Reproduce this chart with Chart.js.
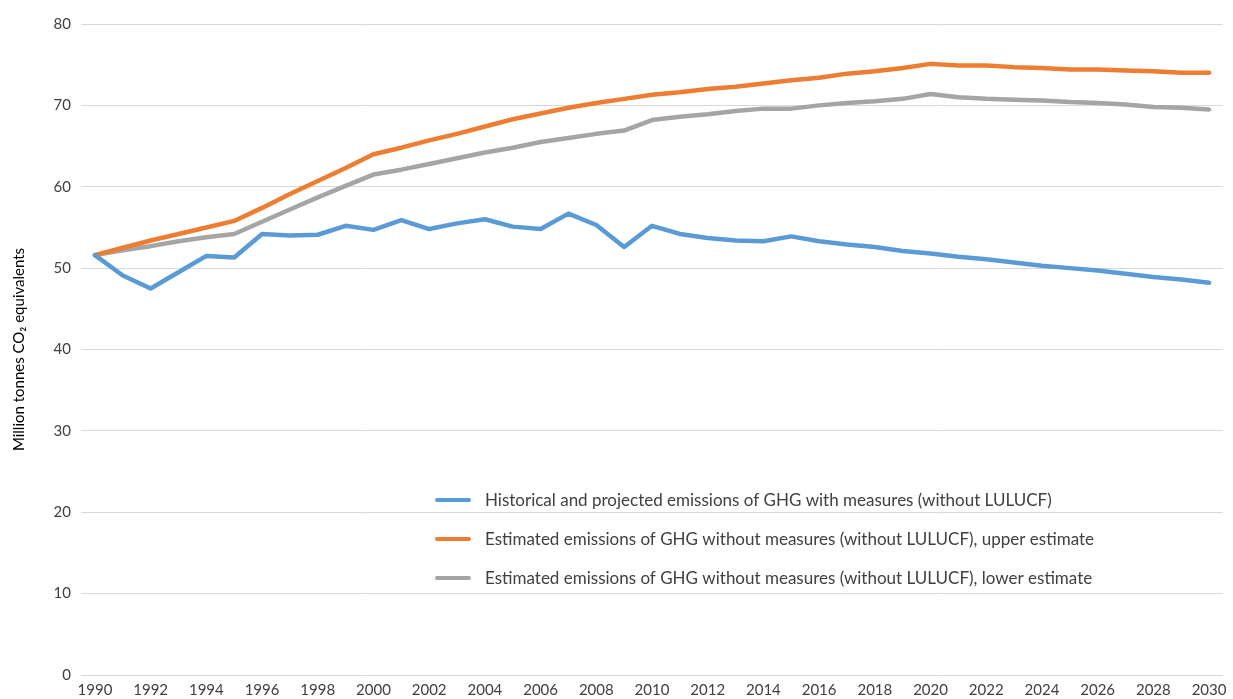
<!DOCTYPE html>
<html>
<head>
<meta charset="utf-8">
<script src="https://cdn.jsdelivr.net/npm/chart.js@4/dist/chart.umd.min.js"></script>
<style>
  html, body { margin: 0; padding: 0; background: #ffffff; }
  #wrap { width: 1233px; height: 699px; }
</style>
</head>
<body>
<div id="wrap"><canvas id="chart" width="1233" height="699"></canvas></div>
<script>
// Years on the horizontal axis
const years = [];
for (let y = 1990; y <= 2030; y++) years.push(String(y));

// Emissions, million tonnes CO2 equivalents
const withMeasures = [
  51.6, 49.1, 47.5, 49.5, 51.5, 51.3, 54.2, 54.0, 54.1, 55.2,
  54.7, 55.9, 54.8, 55.5, 56.0, 55.1, 54.8, 56.7, 55.3, 52.6,
  55.2, 54.2, 53.7, 53.4, 53.3, 53.9, 53.3, 52.9, 52.6, 52.1,
  51.8, 51.4, 51.1, 50.7, 50.3, 50.0, 49.7, 49.3, 48.9, 48.6, 48.2
];
const withoutMeasuresUpper = [
  51.6, 52.5, 53.4, 54.2, 55.0, 55.8, 57.4, 59.1, 60.7, 62.3,
  64.0, 64.8, 65.7, 66.5, 67.4, 68.3, 69.0, 69.7, 70.3, 70.8,
  71.3, 71.6, 72.0, 72.3, 72.7, 73.1, 73.4, 73.9, 74.2, 74.6,
  75.1, 74.9, 74.9, 74.7, 74.6, 74.4, 74.4, 74.3, 74.2, 74.0, 74.0
];
const withoutMeasuresLower = [
  51.6, 52.2, 52.7, 53.3, 53.8, 54.2, 55.7, 57.2, 58.7, 60.1,
  61.5, 62.1, 62.8, 63.5, 64.2, 64.8, 65.5, 66.0, 66.5, 66.9,
  68.2, 68.6, 68.9, 69.3, 69.6, 69.6, 70.0, 70.3, 70.5, 70.8,
  71.4, 71.0, 70.8, 70.7, 70.6, 70.4, 70.3, 70.1, 69.8, 69.7, 69.5
];

const seriesLabels = [
  'Historical and projected emissions of GHG with measures (without LULUCF)',
  'Estimated emissions of GHG without measures (without LULUCF), upper estimate',
  'Estimated emissions of GHG without measures (without LULUCF), lower estimate'
];
const seriesColors = ['#5B9BD5', '#ED7D31', '#A5A5A5'];

const FONT = "Lato, 'Open Sans', 'Liberation Sans', sans-serif";
const TEXT = '#404040';

// Legend drawn as a block inside the plot area, one entry per row
const innerLegend = {
  id: 'innerLegend',
  afterDatasetsDraw(chart) {
    const { ctx, chartArea } = chart;
    const x0 = chartArea.left + 354;
    const y0 = chartArea.top + 476;
    const rowGap = 39;
    ctx.save();
    ctx.font = '17px ' + FONT;
    ctx.textBaseline = 'middle';
    ctx.fillStyle = TEXT;
    chart.data.datasets.forEach((ds, i) => {
      const y = y0 + i * rowGap;
      ctx.beginPath();
      ctx.strokeStyle = ds.borderColor;
      ctx.lineWidth = 4;
      ctx.lineCap = 'round';
      ctx.moveTo(x0 + 2, y);
      ctx.lineTo(x0 + 34, y);
      ctx.stroke();
      ctx.fillText(ds.label, x0 + 50, y + 1);
    });
    ctx.restore();
  }
};

const mkDataset = (label, data, color) => ({
  label, data,
  borderColor: color,
  backgroundColor: color,
  borderWidth: 4.5,
  pointRadius: 0,
  pointHoverRadius: 0,
  tension: 0,
  fill: false,
  borderCapStyle: 'round',
  borderJoinStyle: 'round'
});

new Chart(document.getElementById('chart'), {
  type: 'line',
  data: {
    labels: years,
    datasets: [
      mkDataset(seriesLabels[0], withMeasures, seriesColors[0]),
      mkDataset(seriesLabels[1], withoutMeasuresUpper, seriesColors[1]),
      mkDataset(seriesLabels[2], withoutMeasuresLower, seriesColors[2])
    ]
  },
  options: {
    responsive: false,
    animation: false,
    events: [],
    layout: { padding: { left: 0, right: 10, top: 24, bottom: 0 } },
    plugins: {
      legend: { display: false },
      tooltip: { enabled: false }
    },
    scales: {
      x: {
        type: 'category',
        offset: true,
        grid: { display: false, drawTicks: false },
        border: { display: false },
        ticks: {
          autoSkip: false,
          maxRotation: 0,
          minRotation: 0,
          padding: 6,
          color: TEXT,
          font: { family: FONT, size: 15 },
          callback: function (value, index) {
            return index % 2 === 0 ? this.getLabelForValue(value) : '';
          }
        },
        afterFit(scale) { scale.height = 24; }
      },
      y: {
        min: 0,
        max: 80,
        grid: { color: '#D9D9D9', lineWidth: 1, drawTicks: false },
        border: { display: false },
        ticks: {
          stepSize: 10,
          padding: 10,
          color: TEXT,
          font: { family: FONT, size: 15 }
        },
        title: {
          display: true,
          text: 'Million tonnes CO\u2082 equivalents',
          color: '#000000',
          font: { family: FONT, size: 15 },
          padding: { top: 10, bottom: 0 }
        },
        afterFit(scale) { scale.width = 81; }
      }
    }
  },
  plugins: [innerLegend]
});
</script>
</body>
</html>
